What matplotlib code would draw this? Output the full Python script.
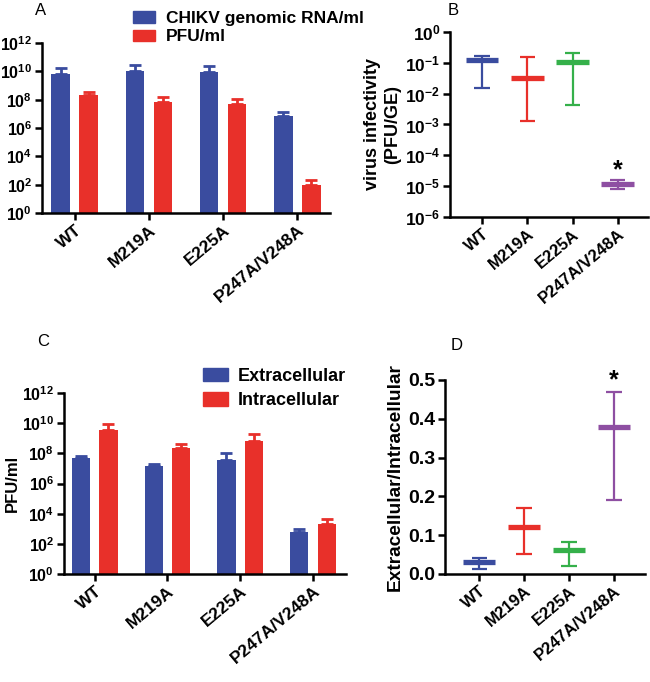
import numpy as np
import matplotlib
matplotlib.use('Agg')
import matplotlib.pyplot as plt
from matplotlib.ticker import LogLocator, NullLocator, FuncFormatter

plt.rcParams['font.family'] = ['Liberation Sans', 'DejaVu Sans']
plt.rcParams['font.weight'] = 'bold'
plt.rcParams['mathtext.fontset'] = 'custom'
plt.rcParams['mathtext.rm'] = 'Liberation Sans:bold'
plt.rcParams['mathtext.bf'] = 'Liberation Sans:bold'
plt.rcParams['mathtext.default'] = 'bf'
plt.rcParams['axes.linewidth'] = 1.8

# data
mutants = ['WT', 'M219A', 'E225A', 'P247A/V248A']

# panel A: titres (log scale)
rna_titre = [7e9, 1.05e10, 9e9, 6.6e6]
rna_err_top = [1.75e10, 2.9e10, 2.5e10, 1.25e7]
pfu_titre = [2.0e8, 7.2e7, 5.2e7, 95]
pfu_err_top = [3.6e8, 1.6e8, 1.1e8, 2.0e2]

# panel B: infectivity, median and range
inf_med = [0.126, 0.033, 0.11, 1.15e-5]
inf_max = [0.17, 0.155, 0.21, 1.55e-5]
inf_min = [0.015, 0.00126, 0.0044, 0.83e-5]

# panel C: extracellular / intracellular PFU
extra_titre = [4.8e7, 1.55e7, 3.7e7, 5.9e2]
extra_err_top = [6.2e7, 2.0e7, 1.0e8, 1.0e3]
intra_titre = [3.6e9, 2.1e8, 6.8e8, 2.1e3]
intra_err_top = [8.5e9, 4.0e8, 1.8e9, 4.5e3]

# panel D: ratio, median and range
ratio_med = [0.031, 0.121, 0.061, 0.38]
ratio_max = [0.041, 0.171, 0.082, 0.47]
ratio_min = [0.013, 0.051, 0.021, 0.19]

blue = '#3a4c9f'
red = '#e8302a'
green = '#35b04a'
purple = '#8e4fa2'
box_colors = [blue, red, green, purple]

fig = plt.figure(figsize=(6.5, 6.82), dpi=100)
W, H = 650, 682


def add_axes(left, top, right, bottom):
    return fig.add_axes([left / W, 1 - bottom / H, (right - left) / W, (bottom - top) / H])


def style(ax, fs=12, xfs=12.5):
    for s in ['top', 'right']:
        ax.spines[s].set_visible(False)
    ax.tick_params(axis='both', which='major', length=5, width=1.8, direction='out',
                   labelsize=fs, pad=2)
    ax.set_xticks(range(len(mutants)))
    ax.set_xticklabels(mutants, rotation=40, ha='right', rotation_mode='anchor',
                       fontsize=xfs, fontweight='bold')
    for lab in ax.get_yticklabels():
        lab.set_fontweight('bold')


def log_y(ax, lo, hi, step):
    ax.set_yscale('log')
    ax.set_ylim(lo, hi)
    ax.yaxis.set_major_locator(LogLocator(base=10.0 ** step, numticks=20))
    ax.yaxis.set_minor_locator(NullLocator())
    ax.yaxis.set_major_formatter(FuncFormatter(
        lambda v, p: r'$\mathbf{10^{%d}}$' % round(np.log10(v))))


def bars(ax, v1, e1, v2, e2, c1, c2):
    x = np.arange(len(mutants))
    off, w = 0.19, 0.25
    for xs, v, e, c in [(x - off, v1, e1, c1), (x + off, v2, e2, c2)]:
        ax.bar(xs, v, width=w, color=c, bottom=1, zorder=2)
        v = np.array(v)
        e = np.array(e)
        ax.errorbar(xs, v, yerr=[np.zeros_like(v), e - v], fmt='none', ecolor=c,
                    elinewidth=2, capsize=4, capthick=2, zorder=1)


def ranges(ax, med, mx, mn):
    for i, c in enumerate(box_colors):
        ax.vlines(i, mn[i], mx[i], color=c, lw=1.6)
        ax.hlines([mn[i], mx[i]], i - 0.17, i + 0.17, color=c, lw=1.6)
        ax.hlines(med[i], i - 0.36, i + 0.36, color=c, lw=3.8)


# ---- A
axA = add_axes(42, 43, 330, 213)
bars(axA, rna_titre, rna_err_top, pfu_titre, pfu_err_top, blue, red)
log_y(axA, 1, 1e12, 2)
axA.set_xlim(-0.44, 3.44)
style(axA, 11.5)
hA = [plt.Rectangle((0, 0), 1, 1, color=blue), plt.Rectangle((0, 0), 1, 1, color=red)]
fig.legend(hA, ['CHIKV genomic RNA/ml', 'PFU/ml'], loc='upper left',
           bbox_to_anchor=(133 / W, 1 - 11 / H), frameon=False,
           handlelength=1.25, handleheight=0.65, handletextpad=0.65, labelspacing=0.2,
           borderpad=0, borderaxespad=0, prop={'weight': 'bold', 'size': 12.5})

# ---- B
axB = add_axes(450, 32, 648, 217)
ranges(axB, inf_med, inf_max, inf_min)
log_y(axB, 1e-6, 1, 1)
axB.set_xlim(-0.71, 3.67)
style(axB, 12.5, 12)
axB.set_ylabel('virus infectivity\n(PFU/GE)', fontsize=13, fontweight='bold', labelpad=3)
axB.text(3, 3.2e-5, '*', ha='center', va='center', fontsize=18, fontweight='bold')

# ---- C
axC = add_axes(64, 393, 346, 574)
bars(axC, extra_titre, extra_err_top, intra_titre, intra_err_top, blue, red)
log_y(axC, 1, 1e12, 2)
axC.set_xlim(-0.42, 3.45)
style(axC, 11.5)
axC.set_ylabel('PFU/ml', fontsize=12, fontweight='bold')
axC.yaxis.set_label_coords(-0.155, 0.5)
hC = [plt.Rectangle((0, 0), 1, 1, color=blue), plt.Rectangle((0, 0), 1, 1, color=red)]
fig.legend(hC, ['Extracellular', 'Intracellular'], loc='upper left',
           bbox_to_anchor=(203 / W, 1 - 368 / H), frameon=False,
           handlelength=1.4, handleheight=0.75, handletextpad=0.5, labelspacing=0.4,
           borderpad=0, borderaxespad=0, prop={'weight': 'bold', 'size': 13})

# ---- D
axD = add_axes(445, 380, 645, 574)
ranges(axD, ratio_med, ratio_max, ratio_min)
axD.set_ylim(0, 0.5)
axD.set_yticks(np.arange(0, 0.51, 0.1))
axD.set_yticklabels(['0.0', '0.1', '0.2', '0.3', '0.4', '0.5'])
axD.set_xlim(-0.76, 3.69)
style(axD, 14, 12)
axD.set_ylabel('Extracellular/Intracellular', fontsize=13.8, fontweight='bold', labelpad=3)
axD.text(3, 0.5, '*', ha='center', va='center', fontsize=18, fontweight='bold',
         clip_on=False)

# panel letters
for lab, x, y in [('A', 35, 3), ('B', 448, 3), ('C', 37, 334), ('D', 451, 338)]:
    fig.text(x / W, 1 - y / H, lab, ha='left', va='top', fontsize=12, fontweight='normal')

fig.savefig('out.png', dpi=100)
